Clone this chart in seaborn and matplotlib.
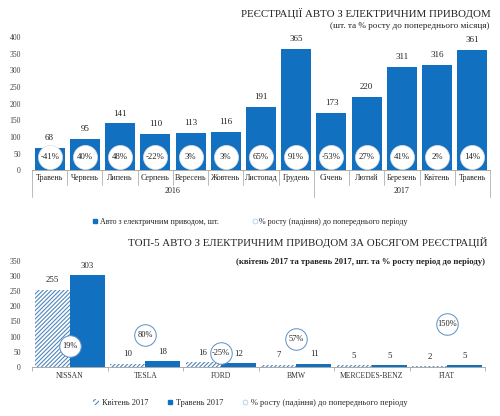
import matplotlib
matplotlib.use("Agg")
import matplotlib.pyplot as plt
from matplotlib.lines import Line2D
from matplotlib.patches import Patch
import numpy as np
import pandas as pd
import seaborn as sns

# data: monthly registrations
months = ["Травень", "Червень", "Липень", "Серпень", "Вересень", "Жовтень", "Листопад",
          "Грудень", "Січень", "Лютий", "Березень", "Квітень", "Травень"]
years = ["2016"] * 8 + ["2017"] * 5
registrations = [68, 95, 141, 110, 113, 116, 191, 365, 173, 220, 311, 316, 361]
growth = ["-41%", "40%", "48%", "-22%", "3%", "3%", "65%", "91%", "-53%", "27%", "41%", "2%", "14%"]

# data: top-5 brands
brands = ["NISSAN", "TESLA", "FORD", "BMW", "MERCEDES-BENZ", "FIAT"]
april = [255, 10, 16, 7, 5, 2]
may = [303, 18, 12, 11, 5, 5]
brand_growth = [19, 80, -25, 57, np.nan, 150]

BLUE = "#1270c0"
EDGE = "#5b8fc4"
GRAY = "#404040"

sns.set_theme(style="white")
plt.rcParams["font.family"] = ["Liberation Serif", "DejaVu Serif"]
plt.rcParams["hatch.linewidth"] = 0.8

fig = plt.figure(figsize=(5, 4.16), dpi=100)

# ---------------- top chart ----------------
ax1 = fig.add_axes([0.064, 0.591, 0.916, 0.320])
df1 = pd.DataFrame({"pos": [f"{m} {y} {i}" for i, (m, y) in enumerate(zip(months, years))],
                    "value": registrations})
sns.barplot(data=df1, x="pos", y="value", color=BLUE, width=0.85, saturation=1,
            ax=ax1, edgecolor="none")
ax1.set_ylim(0, 400)
ax1.set_xlim(-0.5, len(months) - 0.5)
ax1.set_yticks(range(0, 401, 50))
ax1.tick_params(axis="y", labelsize=5.5, colors=GRAY, length=0, pad=8)
ax1.set_xticks(range(len(months)))
ax1.set_xticklabels(months, fontsize=5.8, color="#222222")
ax1.tick_params(axis="x", length=0, pad=3)
ax1.set_xlabel("")
ax1.set_ylabel("")
for s in ["top", "right", "left"]:
    ax1.spines[s].set_visible(False)
ax1.spines["bottom"].set_color("#aaaaaa")
ax1.spines["bottom"].set_linewidth(0.7)

for i, v in enumerate(registrations):
    ax1.annotate(str(v), (i, v), xytext=(0, 4), textcoords="offset points",
                 ha="center", va="bottom", fontsize=6.5, color="#222222")
ax1.scatter(range(len(months)), [38] * len(months), s=300, color="white",
            edgecolor="#dddddd", linewidth=0.5, zorder=3)
for i, g in enumerate(growth):
    ax1.text(i, 38, g, ha="center", va="center", fontsize=6.3, color="#222222", zorder=4)

trans = ax1.get_xaxis_transform()
for b in np.arange(-0.5, len(months), 1.0):
    depth = -0.2 if b in (-0.5, 7.5, 12.5) else -0.11
    ax1.plot([b, b], [0, depth], transform=trans, color="#b0b0b0", lw=0.6, clip_on=False)
ax1.text(3.5, -0.155, "2016", transform=trans, ha="center", va="center", fontsize=5.8, color="#222222")
ax1.text(10, -0.155, "2017", transform=trans, ha="center", va="center", fontsize=5.8, color="#222222")

fig.text(0.982, 0.968, "РЕЄСТРАЦІЇ АВТО З ЕЛЕКТРИЧНИМ ПРИВОДОМ", ha="right", va="center",
         fontsize=7.8, color="#222222")
fig.text(0.98, 0.937, "(шт. та % росту до попереднього місяця)", ha="right", va="center",
         fontsize=6.6, color="#222222")

h1 = [Line2D([], [], marker="s", ls="", color=BLUE, markersize=3.5),
      Line2D([], [], marker="o", ls="", markerfacecolor="white", markeredgecolor="#aaccee",
             markersize=3.5, markeredgewidth=0.6)]
fig.legend(h1, ["Авто з електричним приводом, шт.", "% росту (падіння) до попереднього періоду"],
           loc="center", bbox_to_anchor=(0.5, 0.466), ncol=2, frameon=False, fontsize=5.8,
           handletextpad=0.2, columnspacing=4, handlelength=0.8)

# ---------------- bottom chart ----------------
ax2 = fig.add_axes([0.064, 0.118, 0.906, 0.255])
df2 = pd.DataFrame({"brand": brands * 2, "value": april + may,
                    "period": ["Квітень 2017"] * len(brands) + ["Травень 2017"] * len(brands)})
sns.barplot(data=df2, x="brand", y="value", hue="period", palette=[BLUE, BLUE], width=0.93,
            gap=0, saturation=1, ax=ax2, legend=False, edgecolor="none")
for p in ax2.patches[:len(brands)]:
    p.set_facecolor("white")
    p.set_edgecolor("#4f87bd")
    p.set_hatch("////////")
    p.set_linewidth(0)
ax2.set_ylim(0, 350)
ax2.set_xlim(-0.5, len(brands) - 0.5)
ax2.set_yticks(range(0, 351, 50))
ax2.tick_params(axis="y", labelsize=5.5, colors=GRAY, length=0, pad=8)
ax2.set_xticks(range(len(brands)))
ax2.set_xticklabels(brands, fontsize=5.5, color="#333333")
ax2.set_xticks(np.arange(-0.5, len(brands), 1.0), minor=True)
ax2.tick_params(axis="x", which="major", length=0, pad=4)
ax2.tick_params(axis="x", which="minor", length=3, color="#aaaaaa", width=0.6, bottom=True)
ax2.set_xlabel("")
ax2.set_ylabel("")
for s in ["top", "right", "left"]:
    ax2.spines[s].set_visible(False)
ax2.spines["bottom"].set_color("#aaaaaa")
ax2.spines["bottom"].set_linewidth(0.7)

for i in range(len(brands)):
    for off, v in ((-0.235, april[i]), (0.235, may[i])):
        ax2.annotate(str(v), (i + off, v), xytext=(0, 4), textcoords="offset points",
                     ha="center", va="bottom", fontsize=6.3, color="#222222")

ax3 = ax2.twinx()
ax3.set_ylim(-110, 530)
ax3.axis("off")
gx = [i for i, g in enumerate(brand_growth) if not np.isnan(g)]
gy = [g for g in brand_growth if not np.isnan(g)]
ax3.scatter(gx, gy, s=240, color="white", edgecolor=EDGE, linewidth=0.7, zorder=3)
for x, y in zip(gx, gy):
    ax3.text(x, y, f"{y:.0f}%", ha="center", va="center", fontsize=6.0, color="#222222", zorder=4)

fig.text(0.974, 0.416, "ТОП-5 АВТО З ЕЛЕКТРИЧНИМ ПРИВОДОМ ЗА ОБСЯГОМ РЕЄСТРАЦІЙ", ha="right",
         va="center", fontsize=7.8, color="#222222")
fig.text(0.97, 0.370, "(квітень 2017 та травень 2017, шт. та % росту період до періоду)",
         ha="right", va="center", fontsize=6.2, color="#222222", fontweight="bold")

h2 = [Patch(facecolor="white", edgecolor="#4f87bd", hatch="//////", linewidth=0),
      Line2D([], [], marker="s", ls="", color=BLUE, markersize=3.5),
      Line2D([], [], marker="o", ls="", markerfacecolor="white", markeredgecolor="#aaccee",
             markersize=3.5, markeredgewidth=0.6)]
fig.legend(h2, ["Квітень 2017", "Травень 2017", "% росту (падіння) до попереднього періоду"],
           loc="center", bbox_to_anchor=(0.5, 0.031), ncol=3, frameon=False, fontsize=6.0,
           handletextpad=0.3, columnspacing=2.2, handlelength=0.8, handleheight=0.8)

fig.savefig("out.png", dpi=100)
